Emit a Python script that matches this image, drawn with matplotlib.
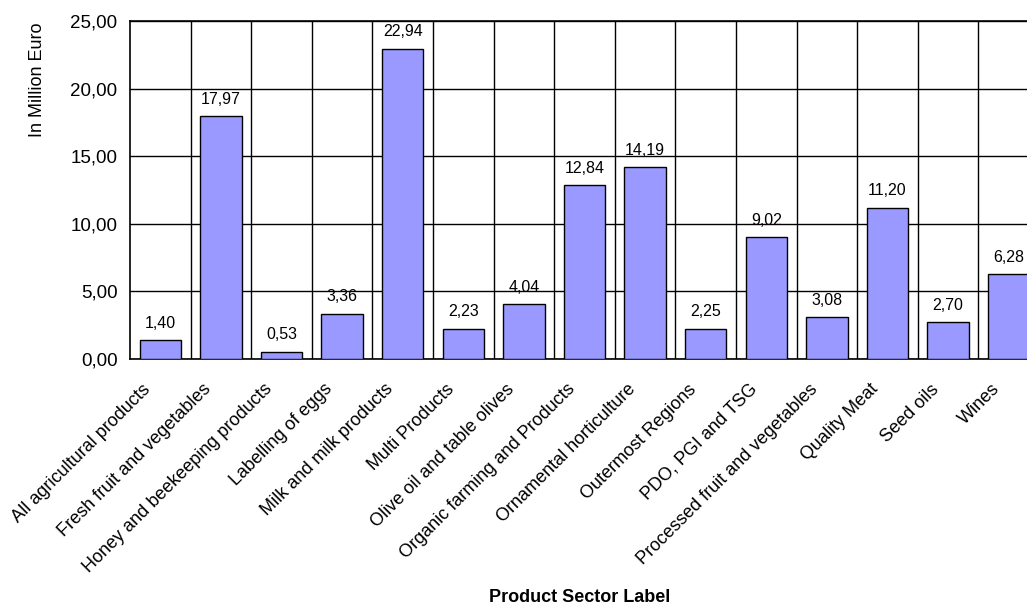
import numpy as np
import matplotlib
matplotlib.use('Agg')
import matplotlib.pyplot as plt
from matplotlib.transforms import ScaledTranslation

plt.rcParams['font.family'] = ['Liberation Sans', 'DejaVu Sans']

# data
sectors = ['All agricultural products', 'Fresh fruit and vegetables',
           'Honey and beekeeping products', 'Labelling of eggs',
           'Milk and milk products', 'Multi Products',
           'Olive oil and table olives', 'Organic farming and Products',
           'Ornamental horticulture', 'Outermost Regions',
           'PDO, PGI and TSG', 'Processed fruit and vegetables',
           'Quality Meat', 'Seed oils', 'Wines']
amounts = [1.40, 17.97, 0.53, 3.36, 22.94, 2.23, 4.04, 12.84,
           14.19, 2.25, 9.02, 3.08, 11.20, 2.70, 6.28]
yticks = [0, 5, 10, 15, 20, 25]


def comma(v):
    return ('%.2f' % v).replace('.', ',')


fig = plt.figure(figsize=(10.27, 6.07), dpi=100)
# plot area runs slightly past the right edge, like the original
ax = fig.add_axes([130/1027, 1 - 359/607, 909/1027, 338/607])

x = np.arange(len(sectors))
ax.bar(x, amounts, width=0.68, color='#9999FF', edgecolor='black',
       linewidth=1.0, zorder=3)

for xi, v in zip(x, amounts):
    ax.annotate(comma(v), (xi, v), xytext=(0, 9), textcoords='offset points',
                ha='center', va='baseline', fontsize=11.5)

ax.set_xlim(-0.5, len(sectors) - 0.5)
ax.set_ylim(0, 25)
ax.set_yticks(yticks)
ax.set_yticklabels([comma(t) for t in yticks], fontsize=13.5)
ax.set_xticks(x)
ax.set_xticklabels(sectors, fontsize=13, rotation=45, ha='right', va='center',
                   rotation_mode='anchor')
ax.set_xticks(x[:-1] + 0.5, minor=True)
ax.tick_params(axis='both', which='both', length=0)
ax.tick_params(axis='y', pad=9)
ax.tick_params(axis='x', pad=20)
shift = ScaledTranslation(-12/100, 0, fig.dpi_scale_trans)
for lbl in ax.get_xticklabels():
    lbl.set_transform(lbl.get_transform() + shift)

ax.grid(True, axis='y', which='major', color='black', linewidth=1.0, zorder=0)
ax.grid(True, axis='x', which='minor', color='black', linewidth=1.0, zorder=0)
ax.grid(False, axis='x', which='major')
for s in ax.spines.values():
    s.set_color('black')
    s.set_linewidth(1.2)

ax.set_xlabel('Product Sector Label', fontsize=13, fontweight='bold')
ax.xaxis.set_label_coords((580 - 130) / 909, -(598 - 359) / 338)
ax.xaxis.label.set_va('center')
ax.set_ylabel('In Million Euro', fontsize=13)
ax.yaxis.set_label_coords((37 - 130) / 909, (359 - 80) / 338)
ax.yaxis.label.set_va('center')

fig.savefig('out.png', dpi=100)
